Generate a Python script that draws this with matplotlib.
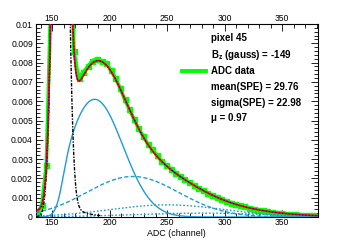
import numpy as np
import matplotlib
matplotlib.use("Agg")
import matplotlib.pyplot as plt
from matplotlib.ticker import MultipleLocator, FuncFormatter
from matplotlib.lines import Line2D

plt.rcParams["font.family"] = ["Liberation Sans", "DejaVu Sans"]
plt.rcParams["mathtext.fontset"] = "custom"
plt.rcParams["mathtext.rm"] = "Liberation Sans"
plt.rcParams["mathtext.bf"] = "Liberation Sans:bold"

# ---------------- data ----------------
adc_channel = [137, 141, 145, 149, 153, 157, 161, 165, 169, 173, 177, 181, 185,
               189, 193, 197, 201, 205, 209, 213, 217, 221, 225, 229, 233, 237,
               241, 245, 249, 253, 257, 261, 265, 269, 273, 277, 281, 285, 289,
               293, 297, 301, 305, 309, 313, 317, 321, 325, 329, 333, 337, 341,
               345, 349, 353, 357, 361, 365, 369, 373, 377, 381]
adc_data = [0.0002, 0.0006, 0.0027, 0.0115, 0.030, 0.044, 0.035, 0.0178, 0.0086,
            0.0072, 0.0075, 0.0078, 0.0081, 0.0082, 0.0081, 0.0080, 0.0076,
            0.0072, 0.0067, 0.0061, 0.0056, 0.0051, 0.0046, 0.0042, 0.0038,
            0.0035, 0.0032, 0.0029, 0.0027, 0.0025, 0.0023, 0.0021, 0.00195,
            0.0018, 0.00166, 0.0015, 0.00139, 0.00126, 0.00114, 0.00104,
            0.00094, 0.00084, 0.00075, 0.00068, 0.0006, 0.00055, 0.00049,
            0.00043, 0.00038, 0.00034, 0.0003, 0.00026, 0.00023, 0.0002,
            0.00018, 0.00015, 0.00013, 0.00011, 0.0001, 0.00009, 0.00008, 0.00007]

# fit components (amplitude, mean, sigma)
ped_amp, ped_mean, ped_sigma = 0.0414, 157.2, 5.0
tail_amp, tail_ref, tail_slope = 0.0007, 165.0, 12.0
cut_center, cut_width = 157.7, 3.3
pe_amp = [0.0061, 0.0021, 0.00063, 0.0002]
pe_mean = [187.0, 220.0, 250.0, 280.0]
pe_sigma = [24.5, 40.0, 50.0, 60.0]
ped_range = (136.0, 192.0)

x_range = (135.8, 381.0)
y_range = (0.0, 0.01)
x_ticks = [150, 200, 250, 300, 350]
y_ticks = [0, 0.001, 0.002, 0.003, 0.004, 0.005, 0.006, 0.007, 0.008, 0.009, 0.01]

info_lines = ["pixel 45", r"B$_{\mathbf{z}}$ (gauss) = -149", "ADC data",
              "mean(SPE) = 29.76", "sigma(SPE) = 22.98", "\u03bc = 0.97"]

# ---------------- figure ----------------
W, H = 354, 241
fig = plt.figure(figsize=(W / 100, H / 100), dpi=100)
L, R, T, B = 35.7, 318.0, 24.0, 217.0
ax = fig.add_axes([L / W, 1 - B / H, (R - L) / W, (B - T) / H])
ax.set_xlim(*x_range)
ax.set_ylim(*y_range)


def gauss(x, a, m, s):
    return a * np.exp(-(x - m) ** 2 / (2 * s ** 2))


def cutoff(x):
    return 1.0 / (1.0 + np.exp(-(x - cut_center) / cut_width))


xf = np.linspace(x_range[0], x_range[1], 1500)
cut = cutoff(xf)
ped = gauss(xf, ped_amp, ped_mean, ped_sigma) + tail_amp * np.exp(-(xf - tail_ref) / tail_slope) * cut
comps = []
for i, (a, m, s) in enumerate(zip(pe_amp, pe_mean, pe_sigma)):
    c = gauss(xf, a, m, s)
    if i == 0:
        c = c * cut
    comps.append(c)
total = ped + sum(comps)

# data
ax.plot(adc_channel, adc_data, color="#00ff00", lw=2.6, marker="s", ms=3.6,
        mec="#00ff00", mfc="#00ff00", zorder=2, solid_joinstyle="miter")

blue_c = "#1f9bd7"
styles = ["-", (0, (3, 1.6)), (0, (1.2, 1.4)), (0, (1.2, 1.4))]
for c, ls in zip(comps, styles):
    ax.plot(xf, c, color=blue_c, lw=1.0, ls=ls, zorder=3)

mask = (xf >= ped_range[0]) & (xf <= ped_range[1])
ax.plot(xf[mask], ped[mask], color="black", lw=1.0, ls=(0, (2.5, 1, 1, 1)), zorder=4)

ax.plot(xf, total, color="#ff0000", lw=1.3, zorder=5)
ax.plot(xf, total, color="#0000ff", lw=0.8, ls=(0, (1, 2)), zorder=6)

# axes styling
ax.set_xticks(x_ticks)
ax.xaxis.set_minor_locator(MultipleLocator(10))
ax.set_yticks(y_ticks)
ax.yaxis.set_minor_locator(MultipleLocator(0.0002))
ax.yaxis.set_major_formatter(FuncFormatter(lambda v, p: "%g" % round(v, 4)))
ax.tick_params(which="both", direction="in", top=True, right=True,
               labeltop=True, labelsize=6.2, width=0.6, colors="black")
ax.tick_params(which="major", length=5)
ax.tick_params(which="minor", length=2.8)
ax.tick_params(axis="x", which="major", pad=0.8)
ax.tick_params(axis="y", which="major", pad=2.0)
for s in ax.spines.values():
    s.set_linewidth(0.8)

fig.text(176.5 / W, 1 - 233.5 / H, "ADC (channel)", ha="center", va="center", fontsize=6.4)

# info text block
ys = [38.3, 55.0, 70.7, 87.3, 102.7, 118.3]
for t, yy in zip(info_lines, ys):
    fig.text(210.7 / W, 1 - yy / H, t, ha="left", va="center", fontsize=7,
             fontweight="bold")
fig.add_artist(Line2D([181.7 / W, 206 / W], [1 - 70.7 / H, 1 - 70.7 / H],
                      color="#00ff00", lw=2.8, transform=fig.transFigure))

fig.savefig("out.png", dpi=100)
